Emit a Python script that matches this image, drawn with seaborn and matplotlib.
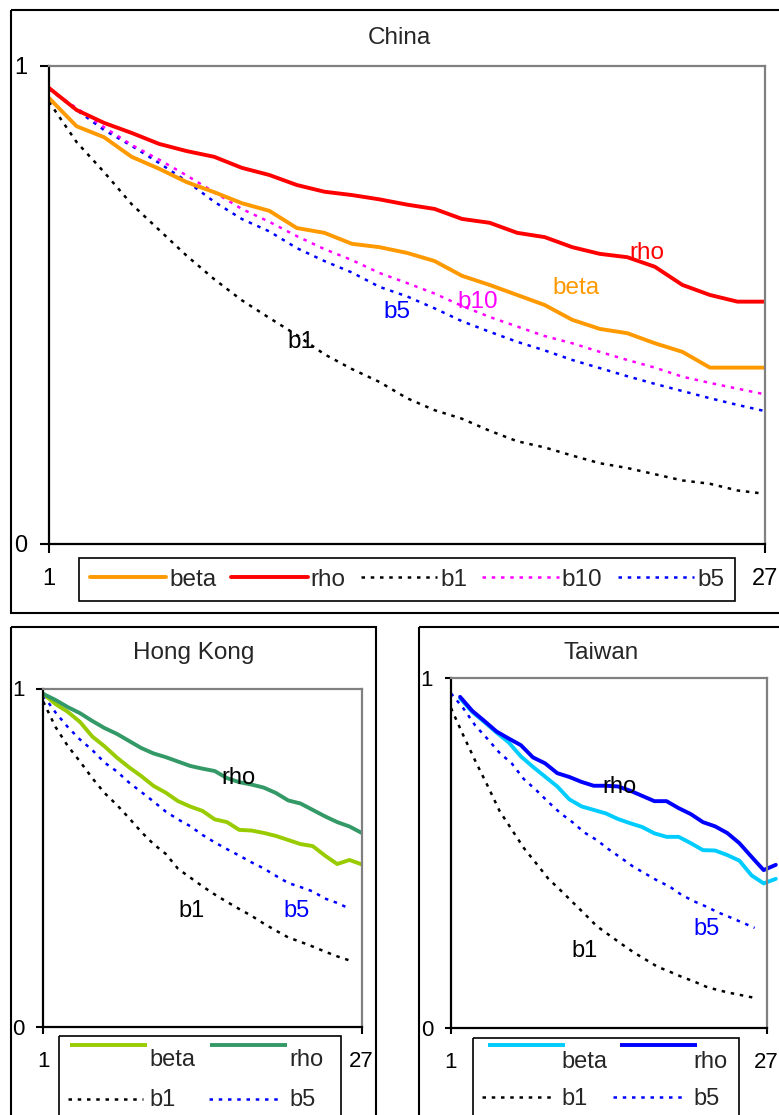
import numpy as np
import pandas as pd
import matplotlib
matplotlib.use("Agg")
import matplotlib.pyplot as plt
import seaborn as sns
from matplotlib.patches import Rectangle

# ---------------- data ----------------
x_ticklabels = ["1", "27"]
y_ticklabels = ["0", "1"]

ch_beta = [0.933, 0.874, 0.851, 0.810, 0.785, 0.757, 0.736, 0.713, 0.697, 0.661, 0.651, 0.628, 0.621,
           0.609, 0.592, 0.561, 0.542, 0.521, 0.500, 0.469, 0.450, 0.441, 0.420, 0.402, 0.369, 0.369, 0.369]
ch_rho = [0.954, 0.908, 0.881, 0.860, 0.837, 0.822, 0.810, 0.787, 0.772, 0.751, 0.737, 0.730, 0.721,
          0.710, 0.701, 0.680, 0.672, 0.651, 0.642, 0.621, 0.607, 0.600, 0.580, 0.542, 0.521, 0.507, 0.507]
ch_b1 = [0.925, 0.841, 0.778, 0.711, 0.657, 0.603, 0.554, 0.510, 0.473, 0.437, 0.397, 0.366, 0.339,
         0.305, 0.280, 0.262, 0.237, 0.215, 0.202, 0.185, 0.169, 0.159, 0.146, 0.133, 0.126, 0.112, 0.105]
ch_b10 = [0.952, 0.912, 0.872, 0.835, 0.804, 0.771, 0.736, 0.701, 0.674, 0.644, 0.617, 0.594, 0.567,
          0.546, 0.524, 0.498, 0.475, 0.455, 0.435, 0.420, 0.402, 0.385, 0.369, 0.350, 0.337, 0.325, 0.313]
ch_b5 = [0.952, 0.908, 0.866, 0.833, 0.797, 0.759, 0.716, 0.680, 0.654, 0.619, 0.592, 0.568, 0.538,
         0.518, 0.493, 0.466, 0.444, 0.423, 0.405, 0.385, 0.368, 0.351, 0.335, 0.320, 0.305, 0.291, 0.278]

hk_beta = [0.984, 0.954, 0.931, 0.901, 0.858, 0.829, 0.796, 0.767, 0.741, 0.712, 0.692, 0.667, 0.651,
           0.638, 0.613, 0.605, 0.582, 0.580, 0.573, 0.564, 0.552, 0.540, 0.534, 0.506, 0.481, 0.493, 0.480]
hk_rho = [0.984, 0.966, 0.945, 0.927, 0.904, 0.883, 0.866, 0.845, 0.824, 0.808, 0.797, 0.784, 0.771,
          0.763, 0.756, 0.735, 0.723, 0.716, 0.707, 0.691, 0.669, 0.660, 0.641, 0.622, 0.605, 0.592, 0.573]
hk_b1 = [0.961, 0.886, 0.830, 0.784, 0.735, 0.691, 0.656, 0.617, 0.576, 0.540, 0.511, 0.467, 0.441,
         0.415, 0.391, 0.369, 0.348, 0.328, 0.305, 0.284, 0.264, 0.251, 0.237, 0.222, 0.208, 0.196]
hk_b5 = [0.979, 0.929, 0.886, 0.849, 0.818, 0.781, 0.755, 0.722, 0.694, 0.666, 0.636, 0.613, 0.593,
         0.567, 0.545, 0.525, 0.506, 0.486, 0.468, 0.446, 0.425, 0.413, 0.400, 0.379, 0.366, 0.349]

tw_beta = [0.943, 0.904, 0.875, 0.845, 0.817, 0.777, 0.747, 0.719, 0.691, 0.654, 0.634, 0.624, 0.614,
           0.598, 0.586, 0.575, 0.557, 0.547, 0.547, 0.529, 0.509, 0.508, 0.495, 0.479, 0.437, 0.414, 0.427]
tw_rho = [0.947, 0.907, 0.878, 0.848, 0.828, 0.809, 0.774, 0.757, 0.729, 0.718, 0.704, 0.693, 0.693,
          0.691, 0.679, 0.664, 0.649, 0.649, 0.629, 0.612, 0.589, 0.577, 0.558, 0.529, 0.490, 0.452, 0.467]
tw_b1 = [0.915, 0.838, 0.764, 0.694, 0.621, 0.568, 0.515, 0.472, 0.428, 0.395, 0.361, 0.327, 0.292,
         0.267, 0.242, 0.218, 0.197, 0.176, 0.162, 0.147, 0.134, 0.119, 0.109, 0.101, 0.094, 0.087]
tw_b5 = [0.957, 0.915, 0.865, 0.827, 0.787, 0.757, 0.712, 0.681, 0.647, 0.615, 0.589, 0.559, 0.538,
         0.511, 0.487, 0.462, 0.442, 0.422, 0.405, 0.381, 0.363, 0.348, 0.331, 0.317, 0.302, 0.287]

# ---------------- style ----------------
sns.set_style("white")
plt.rcParams['font.family'] = ['Liberation Sans', 'DejaVu Sans']
plt.rcParams['font.size'] = 17

C_ORANGE, C_RED, C_MAG, C_BLUE, C_BLACK = "#FF9900", "#FF0000", "#FF00FF", "#0000FF", "#000000"
C_HKB, C_HKR = "#99CC00", "#339966"
C_TWB, C_TWR = "#00CCFF", "#0000FF"
SOLID_LW = 2.8
DOT_LW = 1.8
DOT = (0, (1.4, 2.3))
TW_SHIFT = 0.75

W, H = 779, 1115
fig = plt.figure(figsize=(W / 100, H / 100), dpi=100)


def fbox(l, t, r, b):
    return [l / W, 1 - b / H, (r - l) / W, (b - t) / H]


ov = fig.add_axes([0, 0, 1, 1])
ov.set_xlim(0, W)
ov.set_ylim(H, 0)
ov.axis('off')

# outer chart boxes
for (l, t, w, h) in [(11, 10, 800, 603), (11, 626.5, 365, 540), (419, 626.5, 400, 540)]:
    ov.add_patch(Rectangle((l, t), w, h, fill=False, ec='black', lw=1.5, clip_on=False))

ov.text(399, 44, "China", ha='center', va='baseline', fontsize=17.5)
ov.text(193.5, 659, "Hong Kong", ha='center', va='baseline', fontsize=17.5)
ov.text(601.5, 659, "Taiwan", ha='center', va='baseline', fontsize=17.5)


def style(ax, ticklen, xpad, ypad, fs):
    ax.set_xlim(1, 27)
    ax.set_ylim(0, 1)
    ax.set_xticks([1, 27])
    ax.set_xticklabels(x_ticklabels)
    ax.set_yticks([0, 1])
    ax.set_yticklabels(y_ticklabels)
    ax.set_xlabel("")
    ax.set_ylabel("")
    ax.grid(False)
    ax.set_facecolor("white")
    for s in ['left', 'bottom']:
        ax.spines[s].set_color('black')
        ax.spines[s].set_linewidth(1.6)
    for s in ['top', 'right']:
        ax.spines[s].set_color('#808080')
        ax.spines[s].set_linewidth(1.6)
    ax.tick_params(axis='both', direction='out', length=ticklen, width=1.5, colors='black',
                   labelsize=fs, left=True, bottom=True)
    ax.tick_params(axis='x', pad=xpad)
    ax.tick_params(axis='y', pad=ypad)
    lg = ax.get_legend()
    if lg is not None:
        lg.remove()


def line(ax, x, y, color, lw, ls, label, clip=True):
    sns.lineplot(x=x, y=y, ax=ax, color=color, linewidth=lw, linestyle=ls, label=label,
                 errorbar=None, clip_on=clip)


# ---------------- China ----------------
ax1 = fig.add_axes(fbox(49, 66, 765, 544))
x27 = np.arange(1, 28)
x26 = np.arange(1, 27)
line(ax1, x27, ch_b1, C_BLACK, DOT_LW, DOT, "b1")
line(ax1, x27, ch_b5, C_BLUE, DOT_LW, DOT, "b5")
line(ax1, x27, ch_b10, C_MAG, DOT_LW, DOT, "b10")
line(ax1, x27, ch_beta, C_ORANGE, SOLID_LW, '-', "beta")
line(ax1, x27, ch_rho, C_RED, SOLID_LW, '-', "rho")
style(ax1, 6.5, 10.8, 9.4, 17)
ax1.text(22.72, 0.597, "rho", color=C_RED, ha='center', va='baseline', fontsize=17.5)
ax1.text(20.13, 0.524, "beta", color=C_ORANGE, ha='center', va='baseline', fontsize=17.5)
ax1.text(16.56, 0.493, "b10", color=C_MAG, ha='center', va='baseline', fontsize=17.5)
ax1.text(13.62, 0.472, "b5", color=C_BLUE, ha='center', va='baseline', fontsize=17.5)
ax1.text(10.16, 0.409, "b1", color=C_BLACK, ha='center', va='baseline', fontsize=17.5)

hd = {l.get_label(): l for l in ax1.get_lines()}
order = ["beta", "rho", "b1", "b10", "b5"]
leg = ax1.legend([hd[k] for k in order], order, loc='upper left',
                 bbox_to_anchor=(79 / W, 1 - 558 / H), bbox_transform=fig.transFigure,
                 ncol=5, handlelength=3.15, handletextpad=0.12, columnspacing=0.62,
                 borderpad=0.44, borderaxespad=0, frameon=True, fancybox=False,
                 edgecolor='black', framealpha=1, fontsize=17.5)
leg.get_frame().set_linewidth(1.2)

# ---------------- Hong Kong ----------------
ax2 = fig.add_axes(fbox(43.3, 688.5, 361.7, 1026.7))
line(ax2, x26, hk_b1, C_BLACK, DOT_LW, DOT, "b1")
line(ax2, x26, hk_b5, C_BLUE, DOT_LW, DOT, "b5")
line(ax2, x27, hk_beta, C_HKB, SOLID_LW, '-', "beta")
line(ax2, x27, hk_rho, C_HKR, SOLID_LW, '-', "rho")
style(ax2, 4.8, 12.5, 8.4, 16)
ax2.text(16.95, 0.718, "rho", color=C_BLACK, ha='center', va='baseline', fontsize=17)
ax2.text(13.11, 0.325, "b1", color=C_BLACK, ha='center', va='baseline', fontsize=17)
ax2.text(21.65, 0.325, "b5", color=C_BLUE, ha='center', va='baseline', fontsize=17)

# ---------------- Taiwan ----------------
ax3 = fig.add_axes(fbox(451, 678.3, 766.7, 1028.3))
line(ax3, x26, tw_b1, C_BLACK, DOT_LW, DOT, "b1")
line(ax3, x26, tw_b5, C_BLUE, DOT_LW, DOT, "b5")
line(ax3, x27 + TW_SHIFT, tw_beta, C_TWB, SOLID_LW, '-', "beta", clip=False)
line(ax3, x27 + TW_SHIFT, tw_rho, C_TWR, SOLID_LW, '-', "rho", clip=False)
style(ax3, 4.5, 12.5, 8.4, 16)
ax3.text(14.88, 0.671, "rho", color=C_BLACK, ha='center', va='baseline', fontsize=17)
ax3.text(22.06, 0.267, "b5", color=C_BLUE, ha='center', va='baseline', fontsize=17)
ax3.text(11.97, 0.205, "b1", color=C_BLACK, ha='center', va='baseline', fontsize=17)

# ---------------- manual legends (HK, TW) ----------------
def small_legend(box, rows):
    l, t, r = box
    ov.add_patch(Rectangle((l, t), r - l, 200, fill=False, ec='black', lw=1.2, clip_on=False))
    for (x0, x1, yl, col, lw, ls, tx, ty, lab) in rows:
        ov.plot([x0, x1], [yl, yl], color=col, lw=lw, linestyle=ls, solid_capstyle='butt')
        ov.text(tx, ty, lab, ha='left', va='baseline', fontsize=17)


small_legend((59.3, 1036, 340.7), [
    (70, 147, 1045, C_HKB, SOLID_LW, '-', 149.3, 1066.5, "beta"),
    (210, 287, 1045, C_HKR, SOLID_LW, '-', 289.7, 1066.5, "rho"),
    (68, 143, 1099, C_BLACK, DOT_LW, DOT, 149.3, 1106.5, "b1"),
    (209, 282, 1099, C_BLUE, DOT_LW, DOT, 289.3, 1106.5, "b5"),
])
small_legend((473.3, 1038.3, 739.3), [
    (488.3, 565, 1045, C_TWB, SOLID_LW, '-', 561.7, 1068.3, "beta"),
    (620, 696.7, 1045, C_TWR, SOLID_LW, '-', 693.3, 1068.3, "rho"),
    (481.7, 555, 1096.7, C_BLACK, DOT_LW, DOT, 561.7, 1105, "b1"),
    (613.3, 686.7, 1096.7, C_BLUE, DOT_LW, DOT, 693.3, 1105, "b5"),
])

fig.savefig("out.png", dpi=100)
